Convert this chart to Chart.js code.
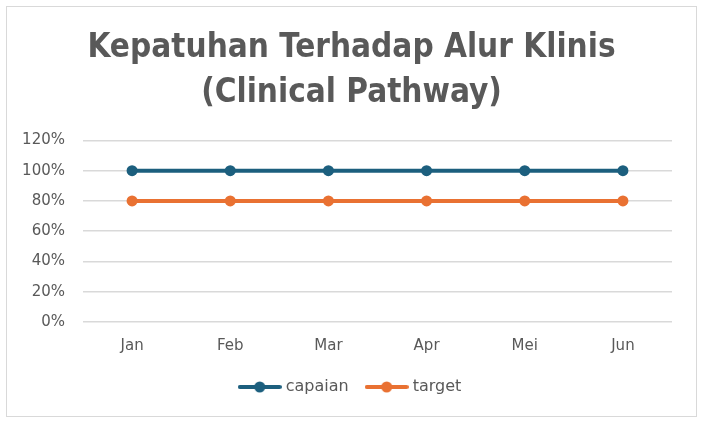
<!DOCTYPE html>
<html>
<head>
<meta charset="utf-8">
<script src="https://cdn.jsdelivr.net/npm/chart.js@4/dist/chart.umd.min.js"></script>
<style>
  html, body { margin: 0; padding: 0; background: #fff; }
  #wrap { width: 703px; height: 427px; position: relative; }
</style>
</head>
<body>
<div id="wrap"><canvas id="chart" width="703" height="427"></canvas></div>
<script>
const months = ['Jan', 'Feb', 'Mar', 'Apr', 'Mei', 'Jun'];
const capaian = [1, 1, 1, 1, 1, 1];
const target = [0.8, 0.8, 0.8, 0.8, 0.8, 0.8];
const titleLines = ['Kepatuhan Terhadap Alur Klinis', '(Clinical Pathway)'];

const blue = '#1c5f7e';
const orange = '#e97132';
const textGrey = '#595959';
const tickFont = { family: "'DejaVu Sans', sans-serif", size: 15 };

// legend marker: short line with a dot in the middle
function legendMark(color) {
  const c = document.createElement('canvas');
  c.width = 44; c.height = 12;
  const g = c.getContext('2d');
  g.strokeStyle = color;
  g.lineWidth = 4;
  g.lineCap = 'round';
  g.beginPath(); g.moveTo(2, 6); g.lineTo(42, 6); g.stroke();
  g.fillStyle = color;
  g.beginPath(); g.arc(22, 6, 5.5, 0, Math.PI * 2); g.fill();
  return c;
}

// outer border + centre title and legend on the whole frame
const frame = {
  id: 'frame',
  afterLayout(chart) {
    if (chart.titleBlock) chart.titleBlock.left = 31;
    if (chart.legend) chart.legend.left = 31;
  },
  afterDraw(chart) {
    const ctx = chart.ctx;
    ctx.save();
    ctx.strokeStyle = '#d9d9d9';
    ctx.lineWidth = 1;
    ctx.strokeRect(6.5, 6.5, 690, 410);
    ctx.restore();
  },
};

const series = (label, data, color) => ({
  label,
  data,
  borderColor: color,
  backgroundColor: color,
  borderWidth: 4,
  pointRadius: 5.5,
  pointHoverRadius: 5.5,
  pointBorderWidth: 0,
  pointStyle: 'circle',
});

new Chart(document.getElementById('chart'), {
  type: 'line',
  data: {
    labels: months,
    datasets: [series('capaian', capaian, blue), series('target', target, orange)],
  },
  plugins: [frame],
  options: {
    responsive: false,
    animation: false,
    layout: { padding: { top: 26, right: 31, bottom: 22, left: 0 } },
    plugins: {
      title: {
        display: true,
        text: titleLines,
        color: textGrey,
        font: { family: "'Liberation Sans Narrow', 'DejaVu Sans Condensed', sans-serif", size: 33, weight: 'bold', lineHeight: 1.37 },
        padding: { top: 0, bottom: 24 },
      },
      legend: {
        position: 'bottom',
        labels: {
          usePointStyle: true,
          pointStyleWidth: 36,
          color: textGrey,
          font: { family: "'DejaVu Sans', sans-serif", size: 16 },
          padding: 20,
          generateLabels: (chart) => chart.data.datasets.map((ds, i) => ({
            text: ds.label,
            fontColor: textGrey,
            pointStyle: legendMark(ds.borderColor),
            datasetIndex: i,
            lineWidth: 0,
          })),
        },
      },
      tooltip: { enabled: false },
    },
    scales: {
      x: {
        offset: true,
        afterFit: (s) => { s.height = 37; },
        grid: { display: false, drawTicks: false },
        border: { display: false },
        ticks: { color: textGrey, font: tickFont, padding: 15 },
      },
      y: {
        min: 0,
        max: 1.2,
        afterFit: (s) => { s.width = 83; },
        grid: { color: '#d9d9d9', lineWidth: 1.5, drawTicks: false },
        border: { display: false },
        ticks: {
          stepSize: 0.2,
          padding: 18,
          color: textGrey,
          font: tickFont,
          callback: (v) => Math.round(v * 100) + '%',
        },
      },
    },
  },
});
</script>
</body>
</html>
